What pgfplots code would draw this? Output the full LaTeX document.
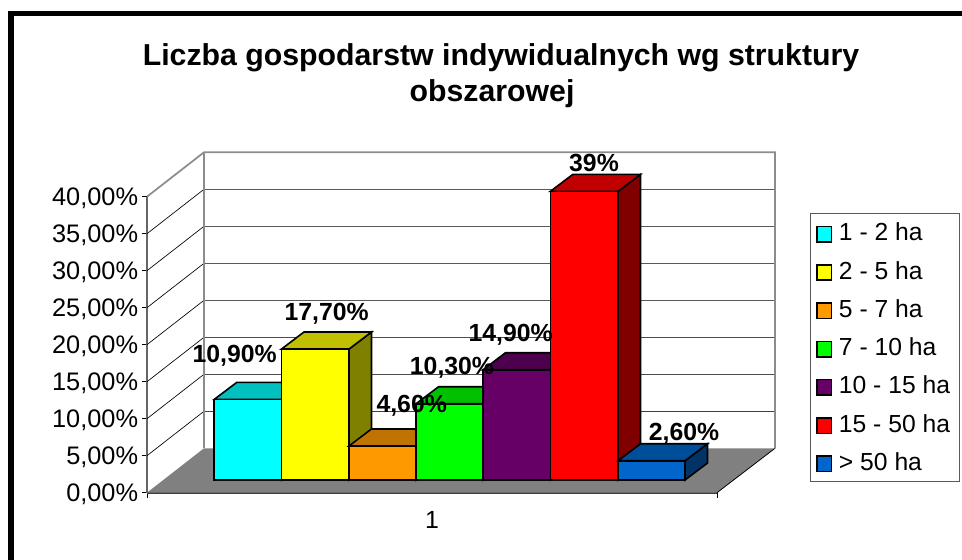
\documentclass[border=0pt]{standalone}
\usepackage{pgfplots}
\pgfplotsset{compat=1.18}
\usepackage{fontspec}
\setmainfont{Liberation Sans}
\definecolor{cA}{HTML}{00FFFF}\definecolor{cAt}{HTML}{00C0C0}\definecolor{cAs}{HTML}{008080}
\definecolor{cB}{HTML}{FFFF00}\definecolor{cBt}{HTML}{C0C000}\definecolor{cBs}{HTML}{808000}
\definecolor{cC}{HTML}{FF9900}\definecolor{cCt}{HTML}{C07300}\definecolor{cCs}{HTML}{804C00}
\definecolor{cD}{HTML}{00FF00}\definecolor{cDt}{HTML}{00C000}\definecolor{cDs}{HTML}{008000}
\definecolor{cE}{HTML}{660066}\definecolor{cEt}{HTML}{4D004D}\definecolor{cEs}{HTML}{330033}
\definecolor{cF}{HTML}{FF0000}\definecolor{cFt}{HTML}{C00000}\definecolor{cFs}{HTML}{800000}
\definecolor{cG}{HTML}{0066CC}\definecolor{cGt}{HTML}{004D99}\definecolor{cGs}{HTML}{003366}
\begin{document}
\begin{tikzpicture}[x=0.75pt,y=0.75pt]
\begin{axis}[
  scale only axis, width=427.5pt, height=222pt,
  xmin=147, xmax=717, ymin=0, ymax=40,
  clip=false,
  axis line style={-},
  axis x line*=bottom, axis y line*=left,
  x axis line style={-,black!75,line width=1.3pt},
  y axis line style={-,black!60,line width=1.1pt},
  ytick={0,5,...,40},
  yticklabels={{0,00\%},{5,00\%},{10,00\%},{15,00\%},{20,00\%},{25,00\%},{30,00\%},{35,00\%},{40,00\%}},
  xtick={147,717}, xticklabels={,},
  extra x ticks={432}, extra x tick labels={1},
  extra x tick style={major tick length=0pt,
    tick label style={font=\fontsize{18.6pt}{20pt}\selectfont,yshift=-10.5pt}},
  tick style={black,line width=0.6pt},
  major tick length=3.75pt,
  tick align=outside,
  y tick label style={font=\fontsize{19pt}{20pt}\selectfont,yshift=-1.5pt,xshift=0.6pt},
  legend style={at={(axis cs:809.5,37.84)},anchor=north west,draw=black!65,line width=0.8pt,
    font=\fontsize{18.5pt}{20pt}\selectfont,inner xsep=2pt,inner ysep=4.7pt,
    row sep=9.15pt,column sep=2.9pt},
  legend cell align=left,
  legend image code/.code={\path (0pt,0pt);\draw[#1,yshift=-9.5pt,line width=1.2pt,draw=black] (2.6pt,-6.8pt) rectangle (13.6pt,4.8pt);},
]
% floor
\addplot[fill=black!50,draw=none,forget plot] coordinates {(147,0)(717,0)(775,6)(204,6)} --cycle;
\addplot[black,line width=0.6pt,forget plot] coordinates {(717,0)(775,6)};
% wall gridlines
\addplot[black,line width=0.5pt,forget plot] coordinates {(147,5)(204,11)};
\addplot[black,line width=0.5pt,forget plot] coordinates {(147,10)(204,16)};
\addplot[black,line width=0.5pt,forget plot] coordinates {(147,15)(204,21)};
\addplot[black,line width=0.5pt,forget plot] coordinates {(147,20)(204,26)};
\addplot[black,line width=0.5pt,forget plot] coordinates {(147,25)(204,31)};
\addplot[black,line width=0.5pt,forget plot] coordinates {(147,30)(204,36)};
\addplot[black,line width=0.5pt,forget plot] coordinates {(147,35)(204,41)};
\addplot[black!75,line width=0.8pt,forget plot] coordinates {(204,11)(775,11)};
\addplot[black!70,line width=0.9pt,forget plot] coordinates {(204,16)(775,16)};
\addplot[black!70,line width=0.9pt,forget plot] coordinates {(204,21)(775,21)};
\addplot[black!65,line width=0.9pt,forget plot] coordinates {(204,26)(775,26)};
\addplot[black!65,line width=0.9pt,forget plot] coordinates {(204,31)(775,31)};
\addplot[black!65,line width=0.9pt,forget plot] coordinates {(204,36)(775,36)};
\addplot[black!65,line width=0.9pt,forget plot] coordinates {(204,41)(775,41)};
\addplot[black!45,line width=1.3pt,forget plot] coordinates {(147,40)(204,46)(775,46)(775,6)};
\addplot[black!45,line width=1.3pt,forget plot] coordinates {(204,6)(204,46)};
% bars: front face carries the value, top and side give the depth
\pgfplotsset{bar/.style={draw=black,line width=1.2pt,line join=miter,yshift=9.5pt}}
\addplot[bar,fill=cAs,forget plot] coordinates {(281.5,0)(304,2.3)(304,13.2)(281.5,10.9)} --cycle;
\addplot[bar,fill=cAt,forget plot] coordinates {(214.3,10.9)(281.5,10.9)(304,13.2)(236.8,13.2)} --cycle;
\addplot[bar,fill=cA] coordinates {(214.3,0)(281.5,0)(281.5,10.9)(214.3,10.9)} --cycle;
\addlegendentry{1 - 2 ha}
\addplot[bar,fill=cBs,forget plot] coordinates {(349,0)(371.5,2.3)(371.5,20)(349,17.7)} --cycle;
\addplot[bar,fill=cBt,forget plot] coordinates {(281.5,17.7)(349,17.7)(371.5,20)(304,20)} --cycle;
\addplot[bar,fill=cB] coordinates {(281.5,0)(349,0)(349,17.7)(281.5,17.7)} --cycle;
\addlegendentry{2 - 5 ha}
\addplot[bar,fill=cCs,forget plot] coordinates {(416,0)(438.5,2.3)(438.5,6.9)(416,4.6)} --cycle;
\addplot[bar,fill=cCt,forget plot] coordinates {(349,4.6)(416,4.6)(438.5,6.9)(371.5,6.9)} --cycle;
\addplot[bar,fill=cC] coordinates {(349,0)(416,0)(416,4.6)(349,4.6)} --cycle;
\addlegendentry{5 - 7 ha}
\addplot[bar,fill=cDs,forget plot] coordinates {(483,0)(505.5,2.3)(505.5,12.6)(483,10.3)} --cycle;
\addplot[bar,fill=cDt,forget plot] coordinates {(416,10.3)(483,10.3)(505.5,12.6)(438.5,12.6)} --cycle;
\addplot[bar,fill=cD] coordinates {(416,0)(483,0)(483,10.3)(416,10.3)} --cycle;
\addlegendentry{7 - 10 ha}
\addplot[bar,fill=cEs,forget plot] coordinates {(550.3,0)(572.8,2.3)(572.8,17.2)(550.3,14.9)} --cycle;
\addplot[bar,fill=cEt,forget plot] coordinates {(483,14.9)(550.3,14.9)(572.8,17.2)(505.5,17.2)} --cycle;
\addplot[bar,fill=cE] coordinates {(483,0)(550.3,0)(550.3,14.9)(483,14.9)} --cycle;
\addlegendentry{10 - 15 ha}
\addplot[bar,fill=cFs,forget plot] coordinates {(618,0)(640.5,2.3)(640.5,41.3)(618,39)} --cycle;
\addplot[bar,fill=cFt,forget plot] coordinates {(550.3,39)(618,39)(640.5,41.3)(572.8,41.3)} --cycle;
\addplot[bar,fill=cF] coordinates {(550.3,0)(618,0)(618,39)(550.3,39)} --cycle;
\addlegendentry{15 - 50 ha\hspace*{3.2pt}}
\addplot[bar,fill=cGs,forget plot] coordinates {(685,0)(707.5,2.3)(707.5,4.9)(685,2.6)} --cycle;
\addplot[bar,fill=cGt,forget plot] coordinates {(618,2.6)(685,2.6)(707.5,4.9)(640.5,4.9)} --cycle;
\addplot[bar,fill=cG] coordinates {(618,0)(685,0)(685,2.6)(618,2.6)} --cycle;
\addlegendentry{> 50 ha}
% value labels
\addplot[draw=none,forget plot,point meta=explicit symbolic,
  nodes near coords,
  every node near coord/.style={anchor=center,font=\fontsize{18.6pt}{20pt}\selectfont\bfseries,inner sep=0pt,black}]
  table[meta=label,col sep=semicolon] {
x;y;label
234.7;18.5;{10,90\%}
326.7;24.2;{17,70\%}
411.7;11.7;{4,60\%}
452;16.9;{10,30\%}
510.7;21.3;{14,90\%}
594;44.6;{39\%}
684;8;{2,60\%}
};
% page frame and title
\path[use as bounding box] (axis cs:0,66.58) rectangle (axis cs:962,-9.09);
\fill[black] (axis cs:8,-9.09) rectangle (axis cs:14,65.09);
\fill[black] (axis cs:8,65.09) rectangle (axis cs:962,64.42);
\node[font=\fontsize{22.7pt}{27.4pt}\selectfont\bfseries,align=center,anchor=center] at (axis cs:501,56.35)
  {Liczba gospodarstw indywidualnych wg struktury\\obszarowej\hspace*{13.5pt}};
\end{axis}
\end{tikzpicture}
\end{document}
